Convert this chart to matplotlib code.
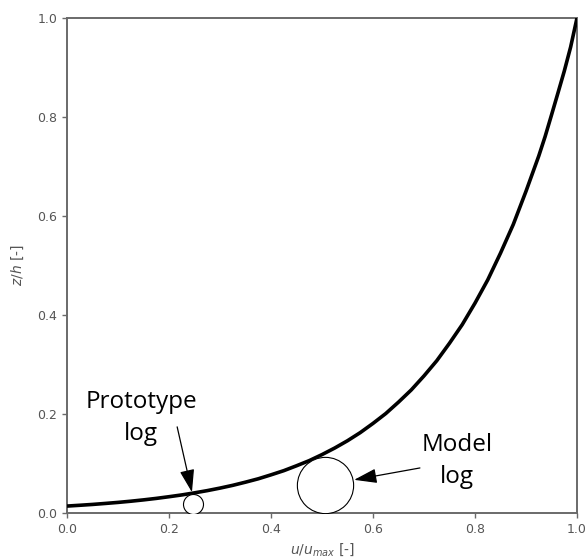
import matplotlib
matplotlib.use("Agg")
import matplotlib.pyplot as plt

# Curve
u_ratio = [0.0, 0.025, 0.05, 0.075, 0.1, 0.125, 0.15, 0.175, 0.2, 0.225, 0.25,
           0.275, 0.3, 0.325, 0.35, 0.375, 0.4, 0.425, 0.45, 0.475, 0.5, 0.525,
           0.55, 0.575, 0.6, 0.625, 0.65, 0.675, 0.7, 0.725, 0.75, 0.775, 0.8,
           0.825, 0.85, 0.875, 0.9, 0.9125, 0.925, 0.9375, 0.95, 0.9625, 0.975,
           0.9875, 1.0]
z_ratio = [0.014, 0.0156, 0.0173, 0.0193, 0.0214, 0.0238, 0.0265, 0.0295,
           0.0329, 0.0365, 0.0407, 0.0452, 0.0503, 0.0559, 0.0623, 0.0691,
           0.0771, 0.0855, 0.0954, 0.1058, 0.118, 0.1313, 0.146, 0.1624, 0.181,
           0.2009, 0.224, 0.2486, 0.277, 0.3076, 0.343, 0.3806, 0.424, 0.471,
           0.525, 0.5828, 0.650, 0.6856, 0.7212, 0.7606, 0.804, 0.848, 0.8925,
           0.9413, 1.0]

# Log positions
log_names = ["Prototype\nlog", "Model\nlog"]
log_x = [0.247, 0.506]
log_z = [0.018, 0.057]
text_x = [0.145, 0.765]
text_z = [0.192, 0.105]
tail_x = [0.216, 0.692]
tail_z = [0.174, 0.091]
tip_x = [0.245, 0.563]
tip_z = [0.042, 0.067]

x_ticks = [0.0, 0.2, 0.4, 0.6, 0.8, 1.0]
y_ticks = [0.0, 0.2, 0.4, 0.6, 0.8, 1.0]

fig = plt.figure(figsize=(5.87, 5.6), dpi=100)
ax = fig.add_axes([67 / 587, 47 / 560, 510 / 587, 495 / 560])

ax.plot(u_ratio, z_ratio, color="black", lw=2.6, solid_capstyle="butt",
        solid_joinstyle="round", zorder=3)

marker_sizes = [14.4, 40.5]
for x, z, ms in zip(log_x, log_z, marker_sizes):
    ax.plot([x], [z], marker="o", ms=ms, mfc="white", mec="black", mew=0.8,
            linestyle="none", zorder=4)

for name, tx, tz, ax0, az0, ax1, az1 in zip(log_names, text_x, text_z,
                                             tail_x, tail_z, tip_x, tip_z):
    ax.text(tx, tz, name, ha="center", va="center", fontsize=17.5,
            family="Open Sans", linespacing=1.45, color="black", zorder=5)
    ax.annotate("", xy=(ax1, az1), xytext=(ax0, az0),
                arrowprops=dict(arrowstyle="-|>,head_length=1.4,head_width=0.45",
                                color="black", lw=0.9, shrinkA=0, shrinkB=0),
                zorder=5)

ax.set_xlim(0, 1)
ax.set_ylim(0, 1)
ax.set_xticks(x_ticks)
ax.set_yticks(y_ticks)
ax.set_xticklabels([f"{t:.1f}" for t in x_ticks])
ax.set_yticklabels([f"{t:.1f}" for t in y_ticks])

gray = "#6a6a6a"
for s in ax.spines.values():
    s.set_color(gray)
    s.set_linewidth(1.4)
ax.tick_params(colors=gray, labelcolor="#555555", labelsize=9, length=3.5, width=1.0)

ax.set_xlabel(r"$u/u_{max}$ [-]", fontsize=10, color="#555555", labelpad=4)
ax.set_ylabel(r"$z/h$ [-]", fontsize=10, color="#555555", labelpad=8)

fig.savefig("out.png", dpi=100)
